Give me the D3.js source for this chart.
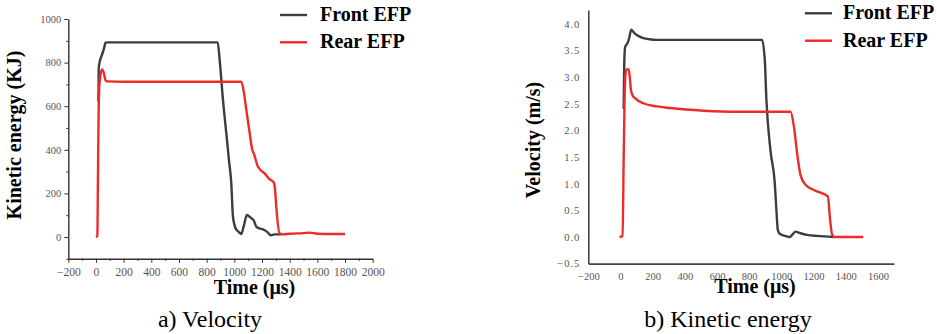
<!DOCTYPE html>
<html>
<head>
<meta charset="utf-8">
<script src="https://cdn.jsdelivr.net/npm/d3@7"></script>
<style>
  body { margin: 0; background: #fff; }
  .tick text { font-family: "Liberation Serif", serif; font-size: 10.5px; fill: #555; }
  .bigtick .tick text { font-size: 11.5px; }
  .ttl { font-family: "Liberation Serif", serif; font-weight: bold; font-size: 20px; fill: #000; }
  .cap { font-family: "Liberation Serif", serif; font-size: 24px; fill: #000; }
</style>
</head>
<body>
<script>
// ---- data ----
const seriesNames = ['Front EFP', 'Rear EFP'];

// a) kinetic energy (KJ) vs time (us)
const keFrontT = [18, 20, 27, 40, 51, 60, 68, 80, 880, 894, 918, 942, 954, 961, 978, 990, 1009, 1030, 1050, 1068, 1091, 1110, 1123, 1140, 1159, 1180, 1207, 1230, 1243, 1262, 1291, 1327, 1340];
const keFrontV = [620, 774, 804, 830, 850, 870, 891, 893, 893, 812, 628, 476, 399, 353, 246, 93, 40, 24, 14, 50, 101, 93, 86, 76, 47, 40, 35, 27, 20, 8, 12, 12, 13];
const keRearT = [0, 10, 14, 19, 24, 30, 44, 58, 68, 80, 200, 1050, 1070, 1087, 1111, 1130, 1140, 1171, 1219, 1255, 1284, 1294, 1303, 1327, 1351, 1400, 1500, 1544, 1600, 1689, 1800];
const keRearV = [0, 5, 250, 560, 690, 730, 769, 750, 720, 714, 712, 712, 660, 582, 476, 399, 384, 322, 292, 265, 251, 220, 139, 17, 12, 15, 18, 20, 15, 14, 14];

// b) velocity (m/s) vs time (us)
const velFrontT = [20, 23, 29, 44, 54, 67, 80, 92, 120, 143, 180, 227, 880, 897, 907, 932, 959, 969, 978, 994, 1025, 1052, 1070, 1088, 1119, 1160, 1222, 1326];
const velFrontV = [2.40, 3.20, 3.57, 3.64, 3.73, 3.89, 3.85, 3.81, 3.76, 3.73, 3.71, 3.70, 3.70, 3.32, 2.57, 1.63, 1.01, 0.51, 0.13, 0.05, 0.02, 0.0, 0.05, 0.10, 0.07, 0.04, 0.02, 0.0];
const velRearT = [-6, 13, 20, 28, 35, 50, 58, 65, 75, 92, 143, 227, 309, 517, 725, 1057, 1078, 1098, 1119, 1150, 1202, 1289, 1301, 1316, 1332, 1509];
const velRearV = [0, 0.02, 1.5, 2.88, 3.14, 3.15, 3.0, 2.76, 2.66, 2.60, 2.51, 2.45, 2.42, 2.37, 2.35, 2.35, 2.07, 1.57, 1.16, 0.98, 0.88, 0.76, 0.38, 0.04, 0, 0];

// axis ticks
const keXTicks = d3.range(-200, 2001, 200);
const keXMinor = d3.range(-100, 2000, 200);
const keYTicks = d3.range(0, 1001, 200);
const keYMinor = d3.range(-100, 1000, 200);
const velXTicks = d3.range(-200, 1601, 200);
const velYTicks = d3.range(-0.5, 4.01, 0.5);

const colors = ['#3d3d3d', '#ee2b2b'];

const svg = d3.select('body').append('svg')
  .attr('width', 937)
  .attr('height', 334);

const zip = (ts, vs) => ts.map((t, i) => [t, vs[i]]);

const line = (x, y) => d3.line()
  .x(d => x(d[0]))
  .y(d => y(d[1]))
  .curve(d3.curveMonotoneX);

// ---------- a) ----------
{
  const x = d3.scaleLinear().domain([-200, 2000]).range([68.3, 372.7]);
  const y = d3.scaleLinear().domain([-100, 1000]).range([258.8, 19]);

  const g = svg.append('g');

  g.append('g')
    .attr('transform', 'translate(0,' + y(-100) + ')')
    .call(d3.axisBottom(x).tickValues(keXMinor).tickSize(2).tickFormat(''))
    .call(a => a.select('.domain').remove())
    .call(a => a.selectAll('line').attr('stroke', '#333'));
  g.append('g')
    .attr('class', 'bigtick')
    .attr('transform', 'translate(0,' + y(-100) + ')')
    .call(d3.axisBottom(x).tickValues(keXTicks).tickSize(4).tickSizeOuter(0).tickPadding(5).tickFormat(d3.format('')))
    .call(a => a.select('.domain').attr('stroke', '#333').attr('stroke-width', 1.4))
    .call(a => a.selectAll('line').attr('stroke', '#333'));

  g.append('g')
    .attr('transform', 'translate(' + x(-200) + ',0)')
    .call(d3.axisLeft(y).tickValues(keYMinor).tickSize(2).tickFormat(''))
    .call(a => a.select('.domain').remove())
    .call(a => a.selectAll('line').attr('stroke', '#333'));
  g.append('g')
    .attr('transform', 'translate(' + x(-200) + ',0)')
    .call(d3.axisLeft(y).tickValues(keYTicks).tickSize(4).tickSizeOuter(0).tickPadding(3).tickFormat(d3.format('')))
    .call(a => a.select('.domain').attr('stroke', '#333').attr('stroke-width', 1.4))
    .call(a => a.selectAll('line').attr('stroke', '#333'));

  const series = [zip(keFrontT, keFrontV), zip(keRearT, keRearV)];
  g.selectAll('.series')
    .data(series)
    .enter().append('path')
      .attr('class', 'series')
      .attr('fill', 'none')
      .attr('stroke', (d, i) => colors[i])
      .attr('stroke-width', 2.4)
      .attr('stroke-linejoin', 'round')
      .attr('d', line(x, y));

  g.append('text').attr('class', 'ttl')
    .attr('transform', 'translate(20.5,135) rotate(-90)')
    .attr('text-anchor', 'middle')
    .text('Kinetic energy (KJ)');
  g.append('text').attr('class', 'ttl')
    .attr('x', 254.5).attr('y', 294)
    .attr('text-anchor', 'middle')
    .text('Time (μs)');
  g.append('text').attr('class', 'cap')
    .attr('x', 210).attr('y', 327)
    .attr('text-anchor', 'middle')
    .text('a) Velocity');

  const leg = g.selectAll('.leg')
    .data(seriesNames)
    .enter().append('g')
      .attr('class', 'leg')
      .attr('transform', (d, i) => 'translate(280,' + (15 + i * 27.3) + ')');
  leg.append('line')
    .attr('x1', 0).attr('x2', 27)
    .attr('stroke', (d, i) => colors[i])
    .attr('stroke-width', 2.4);
  leg.append('text').attr('class', 'ttl')
    .attr('x', 40).attr('y', 6)
    .text(d => d);
}

// ---------- b) ----------
{
  const x = d3.scaleLinear().domain([-200, 1700]).range([588.3, 894]);
  const y = d3.scaleLinear().domain([-0.5, 4.26]).range([263.6, 10]);

  const g = svg.append('g');

  g.append('g')
    .attr('transform', 'translate(0,' + y(-0.5) + ')')
    .call(d3.axisBottom(x).tickValues(velXTicks).tickSize(0).tickPadding(9).tickFormat(d3.format('')))
    .call(a => a.select('.domain').attr('stroke', '#444').attr('stroke-width', 1.6));

  g.append('g')
    .attr('transform', 'translate(' + x(-200) + ',0)')
    .call(d3.axisLeft(y).tickValues(velYTicks).tickSize(0).tickPadding(8).tickFormat(d3.format('.1f')))
    .call(a => a.select('.domain').attr('stroke', '#444').attr('stroke-width', 1.6))
    .call(a => a.selectAll('text').attr('letter-spacing', '1px'));

  const series = [zip(velFrontT, velFrontV), zip(velRearT, velRearV)];
  g.selectAll('.series')
    .data(series)
    .enter().append('path')
      .attr('class', 'series')
      .attr('fill', 'none')
      .attr('stroke', (d, i) => colors[i])
      .attr('stroke-width', 2.4)
      .attr('stroke-linejoin', 'round')
      .attr('d', line(x, y));

  g.append('text').attr('class', 'ttl')
    .attr('transform', 'translate(540,140) rotate(-90)')
    .attr('text-anchor', 'middle')
    .text('Velocity (m/s)');
  g.append('text').attr('class', 'ttl')
    .attr('x', 755).attr('y', 293)
    .attr('text-anchor', 'middle')
    .text('Time (μs)');
  g.append('text').attr('class', 'cap')
    .attr('x', 728).attr('y', 327)
    .attr('text-anchor', 'middle')
    .text('b) Kinetic energy');

  const leg = g.selectAll('.leg')
    .data(seriesNames)
    .enter().append('g')
      .attr('class', 'leg')
      .attr('transform', (d, i) => 'translate(805,' + (13.3 + i * 27.4) + ')');
  leg.append('line')
    .attr('x1', 0).attr('x2', 27)
    .attr('stroke', (d, i) => colors[i])
    .attr('stroke-width', 2.4);
  leg.append('text').attr('class', 'ttl')
    .attr('x', 38).attr('y', 6)
    .text(d => d);
}
</script>
</body>
</html>
